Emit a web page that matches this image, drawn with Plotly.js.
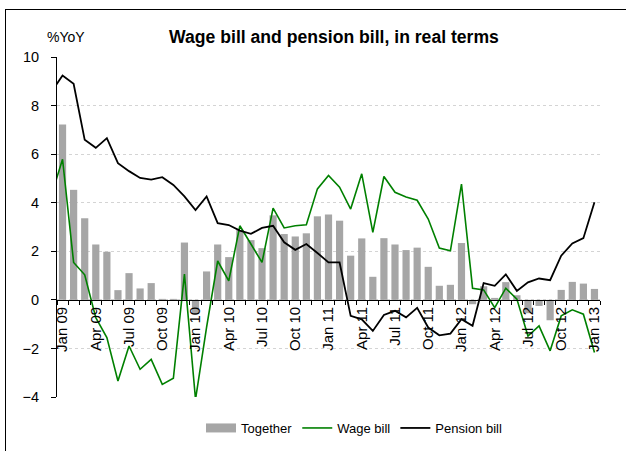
<!DOCTYPE html>
<html>
<head>
<meta charset="utf-8">
<script src="https://cdn.plot.ly/plotly-3.0.1.min.js"></script>
<style>
  html, body { margin: 0; padding: 0; background: #fff; }
  #wrap { position: relative; width: 626px; height: 451px; overflow: hidden; }
  #chart { width: 626px; height: 451px; }
  #frame { position: absolute; left: 5px; top: 9px; width: 800px; height: 600px;
           border-top: 1.5px solid #000; border-left: 1.5px solid #000; pointer-events: none; }
</style>
</head>
<body>
<div id="wrap"><div id="chart"></div><div id="frame"></div></div>
<script>
// Monthly observations, Dec 08 .. Jan 13 (Dec 08 only feeds the clipped start of the lines)
const months = ["Dec 08",
  "Jan 09","Feb 09","Mar 09","Apr 09","May 09","Jun 09","Jul 09","Aug 09","Sep 09","Oct 09","Nov 09","Dec 09",
  "Jan 10","Feb 10","Mar 10","Apr 10","May 10","Jun 10","Jul 10","Aug 10","Sep 10","Oct 10","Nov 10","Dec 10",
  "Jan 11","Feb 11","Mar 11","Apr 11","May 11","Jun 11","Jul 11","Aug 11","Sep 11","Oct 11","Nov 11","Dec 11",
  "Jan 12","Feb 12","Mar 12","Apr 12","May 12","Jun 12","Jul 12","Aug 12","Sep 12","Oct 12","Nov 12","Dec 12",
  "Jan 13"];

const together = [null,
  7.22, 4.53, 3.36, 2.28, 1.98, 0.40, 1.10, 0.47, 0.69, 0.04, 0.04, 2.36,
  -0.57, 1.17, 2.28, 1.76, 2.88, 2.46, 2.13, 3.48, 2.71, 2.61, 2.74, 3.44,
  3.51, 3.26, 1.82, 2.53, 0.95, 2.54, 2.28, 2.05, 2.15, 1.36, 0.58, 0.62,
  2.34, -0.18, 0.56, 0.08, 0.73, 0.19, -0.55, -0.25, -0.84, 0.41, 0.74, 0.67,
  0.45];

const wageBill = [4.31,
  5.79, 1.54, 1.03, -0.73, -1.55, -3.34, -1.90, -2.86, -2.45, -3.48, -3.23, 1.06,
  -4.10, -1.12, 1.60, 0.78, 3.05, 2.30, 1.54, 3.78, 2.96, 3.05, 3.09, 4.57,
  5.12, 4.64, 3.74, 5.19, 2.78, 5.08, 4.43, 4.24, 4.10, 3.33, 2.13, 2.02,
  4.77, 0.48, 0.41, -0.32, 0.48, 0.03, -1.49, -1.07, -2.10, -0.66, -0.41, -0.59,
  -2.17];

const pensionBill = [8.56,
  9.24, 8.90, 6.59, 6.26, 6.66, 5.63, 5.30, 5.02, 4.95, 5.05, 4.73, 4.26,
  3.70, 4.26, 3.16, 3.08, 2.85, 2.72, 2.96, 3.05, 2.37, 2.06, 2.30, 1.93,
  1.54, 1.54, -0.66, -0.80, -1.28, -0.62, -0.45, -0.72, -0.33, -1.14, -1.46, -1.39,
  -0.80, -1.07, 0.69, 0.58, 1.05, 0.37, 0.72, 0.88, 0.81, 1.82, 2.32, 2.54,
  4.02];

const tickLabels = ["Jan 09","Apr 09","Jul 09","Oct 09","Jan 10","Apr 10","Jul 10","Oct 10",
  "Jan 11","Apr 11","Jul 11","Oct 11","Jan 12","Apr 12","Jul 12","Oct 12","Jan 13"];

// x positions: month index, Jan 09 = 0
const xs = months.map((m, i) => i - 1);
const tickVals = tickLabels.map(l => months.indexOf(l) - 1);

const font = "Liberation Sans, Arial, Helvetica, sans-serif";

const traces = [
  { type: 'bar', x: xs, y: together, name: 'Together', showlegend: false,
    marker: { color: '#a6a6a6' }, hoverinfo: 'skip' },
  // legend stand-in for the bars (wide grey box)
  { type: 'scatter', mode: 'lines', x: [null], y: [null], name: 'Together',
    line: { color: '#a6a6a6', width: 9 } },
  { type: 'scatter', mode: 'lines', x: xs, y: wageBill, name: 'Wage bill',
    line: { color: '#008000', width: 1.6 } },
  { type: 'scatter', mode: 'lines', x: xs, y: pensionBill, name: 'Pension bill',
    line: { color: '#000000', width: 1.8 } }
];

const layout = {
  width: 626, height: 451,
  margin: { l: 57, r: 26, t: 57, b: 54, pad: 0 },
  paper_bgcolor: '#fff', plot_bgcolor: '#fff',
  font: { family: font, size: 14, color: '#000' },
  bargap: 0.35,
  title: { text: '<b>Wage bill and pension bill, in real terms</b>',
           font: { family: font, size: 17.6, color: '#000' },
           x: 334 / 626, xanchor: 'center', xref: 'container',
           y: 1 - 37 / 451, yanchor: 'middle', yref: 'container' },
  xaxis: {
    type: 'linear', range: [-0.5, 48.5],
    anchor: 'free', position: 4 / 14,
    showline: true, linecolor: '#000', linewidth: 1,
    zeroline: false, showgrid: false,
    tickmode: 'array', tickvals: tickVals, ticktext: tickLabels,
    tickangle: -90, ticks: '', tickfont: { family: font, size: 15, color: '#000' },
    minor: { tick0: 0.5, dtick: 1, ticks: 'outside', ticklen: 4, tickcolor: '#000', tickwidth: 1, showgrid: false },
    fixedrange: true
  },
  yaxis: {
    range: [-4, 10], tick0: 0, dtick: 2,
    showline: true, linecolor: '#000', linewidth: 1,
    ticks: 'outside', ticklen: 5, tickcolor: '#000', ticklabelstandoff: 9,
    showgrid: true, gridcolor: '#d4d4d4', griddash: 'dot', gridwidth: 1,
    zeroline: false, tickfont: { family: font, size: 14.5, color: '#000' },
    fixedrange: true
  },
  legend: {
    orientation: 'h', xref: 'container', yref: 'container',
    x: 354 / 626, xanchor: 'center', y: 1 - 428 / 451, yanchor: 'middle',
    font: { family: font, size: 13, color: '#000' },
    itemwidth: 30, tracegroupgap: 0, bgcolor: 'rgba(0,0,0,0)'
  },
  annotations: [
    { text: '%YoY', xref: 'paper', yref: 'paper', x: (66 - 57) / 543, y: (397 - 37) / 340,
      xanchor: 'center', yanchor: 'middle', showarrow: false,
      font: { family: font, size: 14, color: '#000' } }
  ],
  showlegend: true
};

Plotly.newPlot('chart', traces, layout, { displayModeBar: false, staticPlot: true });
</script>
</body>
</html>
